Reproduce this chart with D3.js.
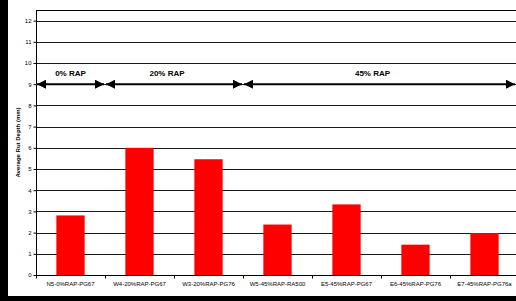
<!DOCTYPE html>
<html>
<head>
<meta charset="utf-8">
<script src="https://cdn.jsdelivr.net/npm/d3@7"></script>
<style>
  body { margin: 0; background: #000; }
  svg { display: block; }
  text { font-family: "Liberation Sans", Arial, sans-serif; }
</style>
</head>
<body>
<div class="chart"></div>
<script>
// mix designs and measured rut depth (mm)
var mixes = ["N5-0%RAP-PG67", "W4-20%RAP-PG67", "W3-20%RAP-PG76", "W5-45%RAP-RA500",
             "E5-45%RAP-PG67", "E6-45%RAP-PG76", "E7-45%RAP-PG76a"];
var rutDepth = [2.81, 6.0, 5.46, 2.38, 3.33, 1.43, 1.98];
var yTicks = [0, 1, 2, 3, 4, 5, 6, 7, 8, 9, 10, 11, 12];

// RAP groups: label, first mix index, last mix index (inclusive)
var groupLabels = ["0% RAP", "20% RAP", "45% RAP"];
var groupStart = [0, 1, 3];
var groupEnd = [0, 2, 6];
var groupLevel = 9;

var W = 516, H = 301;
var margin = {left: 36, top: 10, right: -3, bottom: 26};

var svg = d3.select(".chart").append("svg")
    .attr("width", W)
    .attr("height", H);

// black frame on left and bottom, white page
svg.append("rect").attr("width", W).attr("height", H).attr("fill", "#000");
svg.append("rect").attr("x", 8).attr("y", 0).attr("width", W - 8).attr("height", 296).attr("fill", "#fff");

var x = d3.scaleBand()
    .domain(mixes)
    .range([margin.left, W - margin.right])
    .paddingInner(0.59)
    .paddingOuter(0.295);

var xEdge = d3.scaleLinear()
    .domain([0, mixes.length])
    .range([margin.left, W - margin.right]);

var y = d3.scaleLinear()
    .domain([0, 12.5])
    .range([H - margin.bottom, margin.top]);

var g = svg.append("g");

// gridlines
g.selectAll("line.grid")
    .data(yTicks.slice(1))
    .enter().append("line")
    .attr("class", "grid")
    .attr("x1", margin.left)
    .attr("x2", W - margin.right)
    .attr("y1", function(d) { return Math.round(y(d)) + 0.5; })
    .attr("y2", function(d) { return Math.round(y(d)) + 0.5; })
    .attr("stroke", "#1a1a1a")
    .attr("stroke-width", 1);

// top border of plot
g.append("line")
    .attr("x1", margin.left).attr("x2", W)
    .attr("y1", margin.top + 0.5).attr("y2", margin.top + 0.5)
    .attr("stroke", "#000");

// bars
g.selectAll("rect.bar")
    .data(rutDepth)
    .enter().append("rect")
    .attr("class", "bar")
    .attr("x", function(d, i) { return x(mixes[i]); })
    .attr("width", x.bandwidth())
    .attr("y", function(d) { return y(d); })
    .attr("height", function(d) { return y(0) - y(d); })
    .attr("fill", "#ff0000");

// y axis
var yAxis = d3.axisLeft(y).tickValues(yTicks).tickSize(3).tickPadding(2);
var ya = svg.append("g")
    .attr("transform", "translate(" + (margin.left + 0.5) + ",0)")
    .call(yAxis);
ya.select(".domain").attr("d", "M0," + margin.top + "V" + y(0)).attr("stroke", "#000");
ya.selectAll("text").attr("font-size", 6).attr("fill", "#000")
    .style("font-family", "'Liberation Sans', Arial, sans-serif");

// x axis
var xAxis = d3.axisBottom(x).tickSize(0).tickPadding(6);
var xa = svg.append("g")
    .attr("transform", "translate(0," + (Math.round(y(0)) + 0.5) + ")")
    .call(xAxis);
xa.select(".domain").attr("d", "M" + margin.left + ",0H" + W).attr("stroke", "#000");
xa.selectAll("text").attr("font-size", 6).attr("fill", "#000")
    .style("font-family", "'Liberation Sans', Arial, sans-serif");
xa.selectAll("line.sep")
    .data(d3.range(mixes.length + 1))
    .enter().append("line")
    .attr("class", "sep")
    .attr("x1", function(d) { return Math.round(xEdge(d)) + 0.5; })
    .attr("x2", function(d) { return Math.round(xEdge(d)) + 0.5; })
    .attr("y1", 0).attr("y2", 3)
    .attr("stroke", "#000");

// y axis title
svg.append("text")
    .attr("transform", "translate(20," + ((margin.top + y(0)) / 2) + ") rotate(-90)")
    .attr("text-anchor", "middle")
    .attr("font-size", 6)
    .attr("font-weight", "bold")
    .text("Average Rut Depth (mm)");

// RAP group arrows
var defs = svg.append("defs");
defs.append("marker")
    .attr("id", "head")
    .attr("viewBox", "0 0 10 10")
    .attr("refX", 10).attr("refY", 5)
    .attr("markerWidth", 5).attr("markerHeight", 4.5)
    .attr("markerUnits", "strokeWidth")
    .attr("orient", "auto-start-reverse")
    .append("path")
    .attr("d", "M0,0L10,5L0,10Z")
    .attr("fill", "#000");

var ag = svg.append("g");
groupLabels.forEach(function(lbl, i) {
  var x0 = xEdge(groupStart[i]) + 1;
  var x1 = Math.min(xEdge(groupEnd[i] + 1) - 1, W - 1);
  ag.append("line")
      .attr("x1", x0).attr("x2", x1)
      .attr("y1", y(groupLevel)).attr("y2", y(groupLevel))
      .attr("stroke", "#000")
      .attr("stroke-width", 2)
      .attr("marker-start", "url(#head)")
      .attr("marker-end", "url(#head)");
  var cx = (xEdge(groupStart[i]) + Math.min(xEdge(groupEnd[i] + 1), W)) / 2;
  ag.append("text")
      .attr("x", cx - (i === 0 ? 0 : 7))
      .attr("y", y(groupLevel) - 8)
      .attr("text-anchor", "middle")
      .attr("font-size", 8)
      .attr("font-weight", "bold")
      .text(lbl);
});
</script>
</body>
</html>
